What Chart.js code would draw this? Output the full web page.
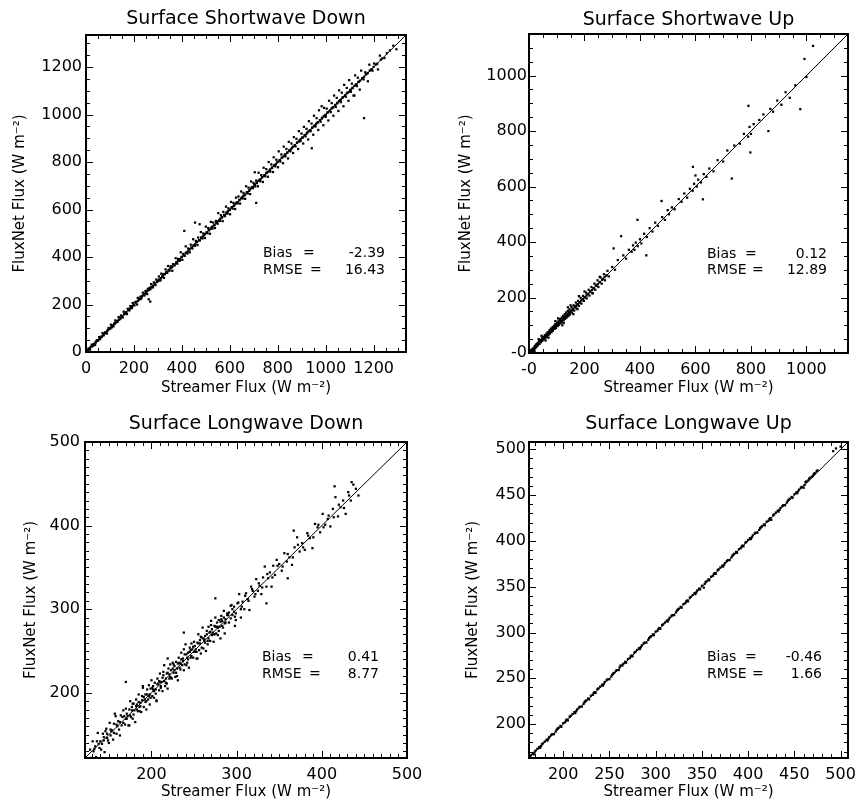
<!DOCTYPE html>
<html><head><meta charset="utf-8">
<script src="https://cdn.jsdelivr.net/npm/chart.js@4.4.1/dist/chart.umd.min.js"></script>
<style>
html,body{margin:0;padding:0;background:#fff;}
#wrap{position:relative;width:859px;height:803px;overflow:hidden;background:#fff;}
canvas{position:absolute;}
</style></head><body>
<div id="wrap">
<canvas id="c1" width="430" height="400" style="left:0;top:0"></canvas>
<canvas id="c2" width="429" height="400" style="left:430px;top:0"></canvas>
<canvas id="c3" width="430" height="403" style="left:0;top:400px"></canvas>
<canvas id="c4" width="429" height="403" style="left:430px;top:400px"></canvas>
</div>
<script>
// ---------- titles / labels ----------
const panelTitles = ['Surface Shortwave Down', 'Surface Shortwave Up', 'Surface Longwave Down', 'Surface Longwave Up'];
const xAxisTitle = 'Streamer Flux (W m⁻²)';
const yAxisTitle = 'FluxNet Flux (W m⁻²)';

// ---------- axis ranges & tick values ----------
const swdRange = [0, 1335];
const swuRange = [0, 1150];
const lwdRange = [122, 500];
const lwuRange = [163, 508];
const swdTicks = [0, 200, 400, 600, 800, 1000, 1200];
const swuTicks = [0, 200, 400, 600, 800, 1000];
const lwdTicks = [200, 300, 400, 500];
const lwuTicks = [200, 250, 300, 350, 400, 450, 500];

// ---------- statistics ----------
const swdStats = ['-2.39', '16.43'];
const swuStats = ['0.12', '12.89'];
const lwdStats = ['0.41', '8.77'];
const lwuStats = ['-0.46', '1.66'];

// ---------- scatter points [Streamer, FluxNet] ----------
const swdPoints = [
[3,4],[6,2],[10,14],[13,13],[17,10],[20,22],[24,31],[27,26],[31,27],[34,35],[38,30],[41,43],[45,49],[48,47],[52,50],[55,63],[59,55],[62,62],[66,64],[69,80],[73,70],[76,77],[80,83],[83,80],[87,78],[90,92],[94,101],[97,96],[101,99],[104,115],[108,104],[111,112],[115,108],[118,121],[122,133],[125,124],[129,127],[132,128],[136,147],[139,137],[143,140],[146,154],[150,150],[153,145],[157,170],[160,159],[164,162],[167,168],[171,160],[174,182],[178,178],[181,175],[185,193],[188,189],[192,185],[195,206],[199,198],[202,196],[206,211],[209,210],[213,200],[216,228],[220,219],[223,222],[227,233],[230,224],[234,236],[237,250],[241,240],[244,238],[248,257],[251,252],[255,244],[258,266],[262,222],[268,212],[262,261],[265,270],[269,265],[272,286],[276,275],[279,272],[283,293],[286,285],[290,282],[293,305],[297,296],
[300,300],[304,318],[307,301],[311,302],[314,330],[318,317],[321,326],[325,312],[328,329],[332,348],[335,337],[339,333],[342,362],[346,346],[349,343],[353,361],[356,355],[360,342],[363,370],[367,366],[370,365],[374,395],[377,378],[381,372],[384,392],[388,387],[391,384],[395,420],[398,399],[402,388],[405,413],[409,408],[410,510],[412,405],[416,445],[419,419],[423,415],[426,436],[430,431],[433,420],[437,452],[440,440],[444,436],[447,475],[451,450],[454,447],[455,545],[458,468],[461,462],[465,450],[468,482],[472,471],[474,538],[475,470],[479,505],[482,483],[486,478],[489,499],[493,492],[496,480],[500,528],[503,504],[507,500],[510,522],[514,513],[517,498],[521,548],[524,525],[528,520],[531,545],[535,534],[538,522],[542,552],[545,546],[549,540],[552,585],[556,556],[559,552],[563,576],[566,567],[570,551],[573,590],[577,576],[580,572],[584,612],[587,588],[591,583],[594,605],[598,597],[601,580],[605,632],[608,609],[612,604],[615,628],[619,618],[622,602],[626,650],[629,630],[633,626],[636,655],[640,639],[643,625],[647,676],[650,651],[654,647],[657,670],[661,660],[664,645],[668,698],[671,672],[675,668],[678,692],[682,681],[685,665],[689,718],[692,693],[696,690],[699,712],
[704,757],[710,628],[703,704],[706,697],[710,722],[713,713],[717,698],[720,755],[724,725],[727,719],[731,745],[734,735],[738,716],[741,776],[745,745],[748,740],[752,770],[755,756],[759,738],[762,800],[766,766],[769,760],[773,790],[776,777],[780,758],[783,820],[787,787],[790,782],[794,810],[797,798],[801,778],[804,845],[808,808],[811,802],[815,832],[818,819],[822,795],[825,865],[829,829],[832,824],[836,855],[839,840],[843,815],[846,885],[850,850],[853,845],[857,878],[860,861],[864,838],[867,905],[871,871],[874,866],[878,898],[881,882],[885,855],[888,930],[892,892],[895,888],[899,920],[902,903],[906,878],[909,948],[913,913],[916,908],[920,940],[923,924],[927,895],[930,972],[934,934],[937,930],[942,858],[941,962],[944,945],[948,915],[951,995],[955,955],[958,950],[962,985],[965,966],[969,935],[972,1018],[976,976],[979,970],[983,1035],[986,987],[990,955],[993,1028],[997,997],[1000,990],[1004,1025],[1007,1008],[1011,975],[1014,1058],[1018,1018],[1021,1010],[1025,1048],[1028,1029],[1032,995],[1035,1080],[1039,1039],[1042,1032],[1046,1070],[1049,1050],[1053,1015],[1056,1102],[1060,1060],[1063,1052],[1067,1092],[1070,1071],[1074,1035],[1077,1125],[1081,1081],[1084,1075],[1088,1112],[1091,1092],[1095,1058],[1098,1145],[1102,1102],[1105,1096],[1109,1130],[1112,1113],[1116,1080],[1120,1080],[1123,1165],[1126,1126],[1130,1120],[1134,1155],[1138,1138],[1142,1105],[1148,1185],[1152,1152],[1160,985],[1158,1148],[1165,1178],[1170,1171],[1176,1140],[1182,1210],[1188,1188],[1195,1185],[1202,1215],[1210,1211],[1218,1190],[1226,1248],[1235,1236],[1245,1238],[1255,1258],[1268,1270],[1282,1290],[1295,1275]];
// dense core of the shortwave-down cloud, hugging the 1:1 line
const swdCore = [[0,2],[8,7],[16,17],[24,23],[32,33],[40,39],[48,49],[56,55],[64,65],[72,71],[80,81],[88,87],[96,97],[104,103],[112,113],[120,119],[128,129],[136,135],[144,145],[152,151],[160,161],[168,167],[176,177],[184,183],[192,193],[200,199],[208,209],[216,215],[224,225],[232,231],[240,241],[248,247],[256,257],[264,263],[272,273],[280,279],[288,289],[296,295],
[304,305],[312,311],[320,321],[328,327],[336,337],[344,343],[352,353],[360,359],[368,369],[376,375],[384,385],[392,391],[400,401],[408,407],[416,417],[424,423],[432,433],[440,439],[448,449],[456,455],[464,465],[472,471],[480,481],[488,487],[496,497],[504,503],[512,513],[520,519],[528,529],[536,535],[544,545],[552,551],[560,561],[568,567],[576,577],[584,583],[592,593],[600,599],[608,609],[616,615],[624,625],[632,631],[640,641],[648,647],[656,657],[664,663],[672,673],[680,679],[688,689],[696,695],[704,705],[712,711],[720,721],[728,727],[736,737],[744,743],[752,753],[760,759],[768,769],[776,775],[784,785],[792,791],[800,801],[808,807],[816,817],[824,823],[832,833],[840,839],[848,849],[856,855],[864,865],[872,871],[880,881],[888,887],[896,897],[904,903],[912,913],[920,919],[928,929],[936,935],[944,945],[952,951],[960,961],[968,967],[976,977],[984,983],[992,993],[1000,999],[1008,1009],[1016,1015],[1024,1025],[1032,1031],[1040,1041],[1048,1047],[1056,1057],[1064,1063],[1072,1073],[1080,1079],[1088,1089],[1096,1095],[1104,1105],[1112,1111],[1120,1121],[1128,1127],[1136,1137],[1144,1143],[1152,1153],[1160,1159],[1168,1169],[1176,1175],[1184,1185],[1192,1191],[1200,1201],[1215,1214],[1230,1231]];

const swuPoints = [
[0,0],[1,-6],[2,3],[3,-2],[4,6],[5,0],[6,-4],[7,9],[8,5],[9,1],[10,12],[11,7],[12,3],[13,14],[14,11],[15,8],[17,19],[18,14],[19,11],[21,25],[22,18],[24,20],[25,30],[27,23],[28,32],[30,26],[31,36],[33,30],[35,34],[36,43],[38,33],[40,40],[41,47],[43,39],[45,44],[47,53],[48,44],[50,50],[52,58],[54,49],[55,56],[57,64],[59,55],[61,60],[63,70],[64,59],[66,66],[68,75],[70,64],[72,71],[74,82],[75,70],[77,77],[79,88],[81,75],[83,82],[85,93],[86,80],[88,89],[90,98],[92,87],[94,94],[95,104],[97,90],[99,99],[101,110],[103,97],[105,105],[107,116],[108,102],[110,111],[112,122],[114,107],[116,116],[118,128],[119,112],[121,122],[123,134],[125,118],[127,126],[129,140],[130,123],[132,133],[134,146],[136,128],[138,137],[140,152],[142,133],[144,145],[146,158],[148,139],[150,150],[153,166],[155,146],[158,158],[161,172],[163,153],[166,167],[169,182],[171,161],[174,175],[177,188],[180,170],[183,183],[186,199],[189,178],[192,193],[195,206],[198,188],[201,201],[205,218],[208,197],[211,212],[215,228],[218,207],[221,222],[225,238],[228,216],[232,233],[236,250],[239,228],[243,244],[247,262],[250,238],[254,255],[258,272],[262,250],[266,267],[270,284],[274,262],[278,279],[283,296],[288,276],
[305,377],[300,310],[310,300],[320,335],[332,421],[340,352],[350,340],[360,372],[370,365],[375,388],[380,372],[385,398],[391,480],[392,385],[400,410],[405,395],[415,430],[423,352],[425,418],[435,450],[445,438],[455,470],[465,458],[478,548],[480,490],[490,480],[500,515],[505,500],[515,525],[525,518],[540,555],[550,545],[560,575],[570,560],[580,592],[590,585],[591,671],[595,610],[600,640],[605,600],[610,625],[620,615],[627,554],[630,645],[640,635],[650,665],[665,655],[680,695],[700,690],[715,730],[731,629],[740,748],[760,755],[775,790],[790,780],[791,891],[795,815],[798,723],[800,790],[810,825],[830,840],[845,860],[863,800],[870,880],[880,870],[895,910],[910,895],[925,940],[940,920],[960,965],[978,879],[993,1060],[1000,995],[1024,1107]];
// dense low-flux core of the shortwave-up cloud
const swuCore = [[2,1],[6,7],[10,9],[14,15],[18,17],[22,23],[26,25],[30,31],[34,33],[38,39],[42,42],[46,46],[50,51],[54,53],[58,59],[62,62],[66,65],[70,71],[74,73],[78,79],[82,82],[86,86],[90,91],[94,93],[98,99],[102,102],[106,106],[110,109],[114,115],[118,118],[122,122],[126,127],[130,130],[134,133],[138,139],[142,142],[146,146],[150,151],[155,155],[160,160],[165,166],[170,170],[176,176],[182,182],[188,189],[194,194],[200,200],[207,207],[214,214],[220,221],[227,227],[234,234],[241,242],[248,248],[256,256],[264,264],[272,273],[280,280],
[20,5],[35,50],[45,62],[60,45],[70,55],[95,115],[105,125],[120,100],[125,108],[140,165],[150,172],[160,140],[175,158],[180,205],[200,222],[230,215],[255,275]];

const lwdPoints = [
[128,132],[129,122],[131,142],[132,130],[133,133],[135,123],[136,142],[137,152],[139,134],[140,142],[141,132],[143,151],[144,143],[145,129],[147,157],[148,151],[149,143],[151,164],[152,149],[153,154],[155,144],[156,163],[157,175],[159,151],[160,160],[161,166],[163,149],[164,173],[165,161],[167,179],
[168,172],[169,162],[170,181],[171,169],[172,172],[173,161],[174,180],[175,190],[176,171],[177,179],[178,169],[179,187],[180,179],[181,165],[182,192],[183,186],[184,178],[185,198],[186,183],[187,188],[188,177],[189,196],[190,208],[191,183],[192,192],[193,198],[194,180],[195,204],[196,192],[197,209],
[198,186],[199,205],[200,215],[201,196],[202,204],[203,194],[204,212],[205,204],[206,190],[207,217],[208,211],[209,203],[210,223],[211,208],[212,213],[213,202],[214,221],[215,233],[216,208],[217,217],[218,223],[219,205],[220,229],[221,217],[222,234],[223,227],[224,217],[225,236],[226,224],[227,227],
[228,219],[229,237],[230,229],[231,215],[232,242],[233,236],[234,228],[235,248],[236,233],[237,238],[238,227],[239,246],[240,258],[241,233],[242,242],[243,248],[244,230],[245,254],[246,242],[247,259],[248,252],[249,242],[250,261],[251,249],[252,252],[253,241],[254,260],[255,270],[256,251],[257,259],
[258,247],[259,266],[260,278],[261,253],[262,262],[263,268],[264,250],[265,274],[266,262],[267,279],[268,272],[269,262],[270,281],[271,269],[272,272],[273,261],[274,280],[275,290],[276,271],[277,279],[278,269],[279,287],[280,279],[281,265],[282,292],[283,286],[284,278],[285,298],[286,283],[287,288],
[289,293],[291,284],[293,304],[295,293],[297,297],[299,287],[301,307],[303,318],[305,300],[307,309],[309,300],[311,319],[313,312],[315,299],[317,327],[319,322],[321,315],[323,336],[325,322],[327,328],[329,318],[331,338],[333,351],[335,327],[337,337],[339,344],[341,327],[343,352],[345,341],[347,359],
[350,354],[353,346],[356,367],[359,357],[362,362],[365,353],[368,374],[371,386],[374,369],[377,379],[380,371],[383,391],[386,385],[389,373],[392,402],[395,398],[398,392],[401,414],[404,401],[407,408],[410,399],[413,420],[416,434],[419,411],[422,422],[425,430],[428,414],[431,440],[434,430],[437,449],[440,444],[443,436],
[142,139],[146,154],[150,140],[154,155],[158,172],[162,156],[166,171],[170,169],[174,161],[178,187],[182,184],[186,178],[190,206],[194,190],[198,198],[202,208],[206,191],[210,213],[214,225],[218,211],[222,219],[226,234],[230,220],[234,235],[238,252],[242,236],[246,251],[250,249],[254,241],[258,267],[262,264],[266,258],[270,286],[274,270],[278,278],[282,288],[286,271],[290,293],[294,305],[298,291],
[170,213],[367,394],[415,447],[435,452],[238,272],[275,313],[335,307],[360,337],[219,241],[298,280],[305,290]];
// extra points filling the dense longwave-down band
const lwdCore = [[134,136],[138,139],[144,147],[148,146],[152,156],[156,152],[159,162],[163,165],[167,164],[171,175],[175,173],[177,183],[179,174],[183,180],[185,189],[187,184],[189,191],[191,195],[193,189],[195,198],[197,196],[199,194],[201,206],[203,202],[205,199],[207,210],[209,214],[211,206],[213,218],[215,214],[217,212],[219,224],[221,222],[223,218],[225,229],[227,232],[229,224],[231,235],[233,230],[235,240],[237,241],[239,234],[241,246],[243,240],[245,249],[247,244],[249,255],[251,256],[253,249],[255,259],[257,263],[259,254],[261,265],[263,260],[265,270],[267,265],[269,273],[271,276],[273,270],[275,279],[277,284],[279,274],[281,285],[283,280],[285,290],[287,284],[289,295],[291,296],[293,289],[295,300],[297,303],[299,295],[302,308],[306,303],[310,316],[314,310],[318,324],[322,318],[326,331],[330,326],[336,342],[342,338],[348,352],[354,351],[360,366],[366,362],[372,377],[378,374],[384,388],[390,386],[396,401],[402,398],[408,412],[414,410],[420,425],[426,421],[432,436]];

const lwuPoints = [[165,166],[168,167],[170,171],[172,173],[175,174],[178,179],[180,181],[183,182],[185,186],[188,189],[190,189],[193,194],[195,196],[198,197],[200,201],[203,204],[205,204],[208,209],[210,211],[213,212],[215,216],[218,219],[220,219],[223,224],[225,226],[228,227],[230,231],[233,234],[235,234],[238,239],[240,241],[243,242],[245,246],[248,249],[250,249],[253,254],[255,256],[258,259],[260,259],[262,264],[265,266],[268,267],[270,271],[273,274],[275,274],[278,279],[280,281],[283,282],[285,286],[288,289],[290,289],[293,294],[295,296],[298,297],[300,301],[303,304],[305,304],[308,309],[310,311],[313,312],[315,316],[318,319],[320,319],[323,324],[325,326],[328,327],[330,331],[333,334],[335,334],[338,339],[340,341],[343,342],[345,346],[348,347],[350,351],[352,349],[355,356],[358,357],[360,361],[363,364],[365,364],[368,369],[370,371],[373,372],[375,376],[378,379],[380,379],[383,384],[385,386],[388,387],[390,391],[393,394],[395,394],[398,399],[400,401],[403,402],[405,406],[408,409],[410,409],[413,414],[415,416],[418,417],[420,421],[423,424],[425,423],[428,429],[430,431],[433,432],[435,436],[438,439],[440,439],[443,444],[445,446],[448,447],[450,451],[453,452],[455,456],[458,459],[460,458],[462,464],[465,466],[467,469],[470,471],[472,474],[475,477],[492,498],[495,501],[500,503]];
const lwuCore = [[167,168],[169,169],[174,175],[176,176],[177,178],[182,183],[184,184],[187,188],[192,192],[194,195],[197,198],[202,202],[204,205],[207,208],[212,213],[214,214],[217,218],[222,222],[224,225],[227,228],[232,232],[234,235],[237,238],[242,243],[244,244],[247,248],[252,252],[254,255],[257,258],[261,262],[264,264],[267,268],[272,272],[274,275],[277,278],[282,283],[284,284],[287,288],[292,292],[294,295],[297,298],[302,302],[304,305],[307,308],[312,313],[314,314],[317,318],[322,322],[324,325],[327,328],[332,332],[334,335],[337,338],[342,343],[344,344],[347,348],[353,353],[354,355],[357,358],[362,362],[364,365],[367,368],[372,373],[374,374],[377,378],[382,382],[384,385],[387,388],[392,392],[394,395],[397,398],[402,403],[404,404],[407,408],[412,412],[414,415],[417,418],[422,422],[424,425],[427,428],[432,433],[434,434],[437,438],[442,442],[444,445],[447,448],[452,453],[454,454],[457,458],[461,461],[463,465],[466,468],[469,470],[471,473],[474,476]];

// ---------- panel layout (pixels, styling only) ----------
const FONT = '"DejaVu Sans", "Liberation Sans", sans-serif';
const panels = [
  {id:'c1', title:panelTitles[0], pts:swdPoints.concat(swdCore), range:swdRange, ticks:swdTicks, minor:50, stats:swdStats, neg0:false,
   area:{l:86, r:406, t:35, b:352}, titleY:19.5, yTitlePad:11, xTitlePad:3, yTickPad:4, xTickPad:7, st:{x:263, eq1:303, eq2:310, xr:385, y1:253, y2:270}},
  {id:'c2', title:panelTitles[1], pts:swuPoints.concat(swuCore), range:swuRange, ticks:swuTicks, minor:50, stats:swuStats, neg0:true,
   area:{l:99, r:418, t:34, b:353}, titleY:20, yTitlePad:27, xTitlePad:3, yTickPad:2, xTickPad:7, st:{x:277, eq1:315, eq2:322, xr:397, y1:254, y2:270}},
  {id:'c3', title:panelTitles[2], pts:lwdPoints.concat(lwdCore), range:lwdRange, ticks:lwdTicks, minor:10, stats:lwdStats, neg0:false,
   area:{l:85, r:407, t:42, b:358}, titleY:24.5, yTitlePad:22, xTitlePad:2, yTickPad:5, xTickPad:7, st:{x:262, eq1:302, eq2:309, xr:379, y1:257, y2:274}},
  {id:'c4', title:panelTitles[3], pts:lwuPoints.concat(lwuCore), range:lwuRange, ticks:lwuTicks, minor:10, stats:lwuStats, neg0:false,
   area:{l:99, r:418, t:42, b:358}, titleY:24.5, yTitlePad:34, xTitlePad:2, yTickPad:3, xTickPad:7, st:{x:277, eq1:315, eq2:322, xr:392, y1:257, y2:274}}
];

function makePanel(P) {
  const cv = document.getElementById(P.id);
  const W = cv.width, H = cv.height;
  const fmt = v => (P.neg0 && v === 0) ? '-0' : String(v);
  const framePlugin = {
    id: 'frame' + P.id,
    afterDatasetsDraw(chart) {
      const {ctx, chartArea: a, scales: {x, y}} = chart;
      ctx.save();
      ctx.strokeStyle = '#000';
      ctx.lineWidth = 2;
      ctx.strokeRect(a.left, a.top, a.right - a.left, a.bottom - a.top);
      ctx.lineWidth = 1;
      ctx.beginPath();
      const start = Math.ceil(P.range[0] / P.minor) * P.minor;
      for (let v = start; v <= P.range[1] + 1e-9; v += P.minor) {
        const major = P.ticks.includes(v);
        const len = major ? 7 : 4;
        const px = Math.round(x.getPixelForValue(v)) + 0.5;
        ctx.moveTo(px, a.bottom); ctx.lineTo(px, a.bottom - len);
        ctx.moveTo(px, a.top); ctx.lineTo(px, a.top + len);
        const py = Math.round(y.getPixelForValue(v)) + 0.5;
        ctx.moveTo(a.left, py); ctx.lineTo(a.left + len, py);
        ctx.moveTo(a.right, py); ctx.lineTo(a.right - len, py);
      }
      ctx.stroke();
      // panel title
      ctx.fillStyle = '#000';
      ctx.font = '19px ' + FONT;
      ctx.textAlign = 'center';
      ctx.textBaseline = 'middle';
      ctx.fillText(P.title, (a.left + a.right) / 2, P.titleY);
      // statistics box
      ctx.font = '14px ' + FONT;
      ctx.textAlign = 'left';
      ctx.fillText('Bias', P.st.x, P.st.y1);
      ctx.fillText('RMSE', P.st.x, P.st.y2);
      ctx.fillText('=', P.st.eq1, P.st.y1);
      ctx.fillText('=', P.st.eq2, P.st.y2);
      ctx.textAlign = 'right';
      ctx.fillText(P.stats[0], P.st.xr, P.st.y1);
      ctx.fillText(P.stats[1], P.st.xr, P.st.y2);
      ctx.restore();
    }
  };
  const axisCommon = (isX) => ({
    type: 'linear',
    min: P.range[0], max: P.range[1],
    grid: {display: false, drawTicks: false},
    border: {display: false},
    afterBuildTicks: s => { s.ticks = P.ticks.map(v => ({value: v})); },
    ticks: {
      color: '#000', font: {family: FONT, size: 16},
      autoSkip: false, maxRotation: 0, minRotation: 0,
      padding: isX ? P.xTickPad : P.yTickPad,
      callback: v => fmt(v)
    },
    title: {
      display: true, text: isX ? xAxisTitle : yAxisTitle, color: '#000',
      font: {family: FONT, size: 15},
      padding: isX ? {top: 0, bottom: P.xTitlePad} : {top: P.yTitlePad, bottom: 0}
    },
    afterFit: s => {
      if (isX) { s.height = H - P.area.b; s.paddingLeft = 0; s.paddingRight = 0; }
      else { s.width = P.area.l; s.paddingTop = 0; s.paddingBottom = 0; }
    }
  });
  new Chart(cv, {
    type: 'scatter',
    data: {
      datasets: [
        {type: 'line', data: [{x: P.range[0], y: P.range[0]}, {x: P.range[1], y: P.range[1]}],
         borderColor: '#000', borderWidth: 1, pointRadius: 0, fill: false},
        {type: 'scatter', data: P.pts.map(([x, y]) => ({x, y})),
         backgroundColor: '#000', borderColor: '#000', borderWidth: 0, pointRadius: 1.6, pointStyle: 'rect'}
      ]
    },
    options: {
      responsive: false, animation: false, devicePixelRatio: 1,
      layout: {padding: {left: 0, right: W - P.area.r, top: P.area.t, bottom: 0}},
      plugins: {legend: {display: false}, tooltip: {enabled: false}, title: {display: false}},
      scales: {x: axisCommon(true), y: axisCommon(false)}
    },
    plugins: [framePlugin]
  });
}
panels.forEach(makePanel);
</script>
</body></html>
